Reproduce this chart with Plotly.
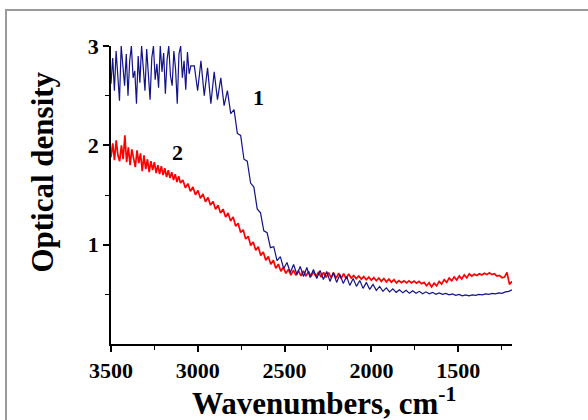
import numpy as np
import plotly.graph_objects as go

# Spectrum 1 (navy): noisy high-absorbance part, then fringe-modulated edge and tail
blue_noisy = [2.62, 2.88, 2.55, 2.95, 2.70, 2.45, 3.00, 2.80, 2.60, 2.92, 2.50, 2.85,
              3.00, 2.68, 2.75, 2.42, 2.90, 2.63, 3.00, 2.78, 2.55, 2.97, 2.70, 2.46,
              2.88, 3.00, 2.66, 2.82, 2.58, 3.00, 2.74, 2.93, 2.52, 2.86, 3.00, 2.70,
              2.60, 2.95, 2.77, 2.42, 2.92, 3.00, 2.68, 2.85, 2.56, 2.94, 2.72, 2.80]
blue_noisy_wn = (3500, 3040)

blue_fringe = [2.80, 2.55, 2.85, 2.50, 2.78, 2.42, 2.74, 2.46, 2.68, 2.40,
               2.55, 2.32, 2.36, 2.12, 2.10, 1.86, 1.84, 1.62, 1.58, 1.36,
               1.32, 1.14, 1.12, 0.97, 0.98, 0.84, 0.88, 0.76, 0.82, 0.72,
               0.80, 0.70, 0.78, 0.68, 0.77, 0.67, 0.75, 0.66, 0.74, 0.65,
               0.73, 0.63, 0.72, 0.62, 0.70, 0.61, 0.68, 0.59, 0.66, 0.58,
               0.64, 0.56, 0.62, 0.55, 0.60, 0.54, 0.58, 0.53, 0.565, 0.525,
               0.555, 0.52, 0.545, 0.515, 0.54, 0.51, 0.535, 0.51, 0.53, 0.505,
               0.525, 0.505, 0.52, 0.50, 0.515, 0.50, 0.51, 0.495, 0.505, 0.49,
               0.50, 0.485, 0.495, 0.485, 0.495, 0.49, 0.50, 0.495, 0.505, 0.50,
               0.51, 0.505, 0.515, 0.51, 0.525, 0.53, 0.545]
blue_fringe_wn = (3020, 1190)

# Spectrum 2 (red)
red_noisy = [1.88, 2.02, 1.85, 2.05, 1.90, 1.84, 2.00, 1.86, 2.10, 1.83,
             1.98, 1.80, 1.96, 1.86, 1.78, 1.95, 1.82, 1.92, 1.74, 1.90,
             1.76, 1.86, 1.73, 1.84, 1.75, 1.83, 1.72, 1.80, 1.71, 1.79,
             1.70, 1.77, 1.68, 1.75, 1.67, 1.73, 1.65, 1.71, 1.63, 1.69, 1.62]
red_noisy_wn = (3500, 3100)

red_fringe = [1.65, 1.572, 1.615, 1.537, 1.58, 1.502, 1.545, 1.467, 1.51, 1.432,
              1.475, 1.398, 1.436, 1.357, 1.397, 1.318, 1.358, 1.278, 1.319, 1.239,
              1.28, 1.187, 1.215, 1.122, 1.15, 1.057, 1.085, 0.992, 1.028, 0.943,
              0.978, 0.892, 0.927, 0.842, 0.881, 0.802, 0.843, 0.763, 0.804, 0.732,
              0.772, 0.711, 0.751, 0.694, 0.743, 0.691, 0.739, 0.687, 0.736, 0.684,
              0.732, 0.681, 0.729, 0.678, 0.726, 0.674, 0.722, 0.671, 0.719, 0.667,
              0.716, 0.664, 0.713, 0.661, 0.709, 0.657, 0.706, 0.664, 0.69, 0.658,
              0.685, 0.653, 0.68, 0.647, 0.674, 0.642, 0.669, 0.637, 0.664, 0.631,
              0.659, 0.626, 0.653, 0.621, 0.648, 0.615, 0.639, 0.618, 0.637, 0.616,
              0.635, 0.614, 0.633, 0.612, 0.631, 0.606, 0.62, 0.587, 0.617, 0.575,
              0.612, 0.585, 0.63, 0.603, 0.648, 0.62, 0.665, 0.635, 0.676, 0.645,
              0.686, 0.655, 0.696, 0.666, 0.707, 0.684, 0.702, 0.689, 0.707, 0.694,
              0.712, 0.699, 0.717, 0.698, 0.707, 0.683, 0.691, 0.667, 0.674, 0.72,
              0.60, 0.63]
red_fringe_wn = (3086, 1190)

x_ticks = [3500, 3000, 2500, 2000, 1500]
x_minor = [3250, 2750, 2250, 1750, 1250]
y_ticks = [1, 2, 3]
y_minor = [0.5, 1.5, 2.5]

x_range = [3500, 1190]
y_range = [0, 3]

serif = "Liberation Serif, Times New Roman, serif"


def spectrum(noisy, noisy_wn, fringe, fringe_wn):
    wn = np.concatenate([np.linspace(noisy_wn[0], noisy_wn[1], len(noisy)),
                         np.linspace(fringe_wn[0], fringe_wn[1], len(fringe))])
    return wn, np.array(noisy + fringe)


bx, by = spectrum(blue_noisy, blue_noisy_wn, blue_fringe, blue_fringe_wn)
rx, ry = spectrum(red_noisy, red_noisy_wn, red_fringe, red_fringe_wn)

fig = go.Figure()
fig.add_trace(go.Scatter(x=rx, y=ry, mode="lines",
                         line=dict(color="#ff0000", width=1.7), showlegend=False))
fig.add_trace(go.Scatter(x=bx, y=by, mode="lines",
                         line=dict(color="#12128a", width=1.2), showlegend=False))

axis_common = dict(showline=True, linecolor="black", linewidth=1.5,
                   ticks="outside", ticklen=6, tickwidth=1.5, tickcolor="black",
                   showgrid=False, zeroline=False,
                   tickfont=dict(family=serif, size=22, color="black", weight="bold"))

fig.update_xaxes(range=x_range, tickvals=x_ticks, ticktext=[str(v) for v in x_ticks],
                 minor=dict(tickvals=x_minor, ticks="outside", ticklen=4,
                            tickwidth=1.2, tickcolor="black"),
                 **axis_common)
fig.update_yaxes(range=y_range, tickvals=y_ticks, ticktext=[str(v) for v in y_ticks],
                 minor=dict(tickvals=y_minor, ticks="outside", ticklen=4,
                            tickwidth=1.2, tickcolor="black"),
                 **axis_common)

fig.add_annotation(x=0.53, y=-0.193, xref="paper", yref="paper",
                   text="Wavenumbers, cm<sup>-1</sup>", showarrow=False,
                   xanchor="center", yanchor="middle",
                   font=dict(family=serif, size=31, color="black", weight="bold"))
fig.add_annotation(x=-0.17, y=0.578, xref="paper", yref="paper",
                   text="Optical density", showarrow=False, textangle=-90,
                   xanchor="center", yanchor="middle",
                   font=dict(family=serif, size=31, color="black", weight="bold"))

for label, lx, ly in [("1", 2652, 2.48), ("2", 3119, 1.925)]:
    fig.add_annotation(x=lx, y=ly, text=label, showarrow=False,
                       font=dict(family=serif, size=22, color="black", weight="bold"))

# outer frame
fig.add_shape(type="rect", xref="paper", yref="paper",
              x0=-0.2618, y0=-0.4, x1=1.4, y1=1.1206,
              line=dict(color="#9a9a9a", width=2), layer="below")

fig.update_layout(width=588, height=420,
                  margin=dict(l=111, r=76, t=46, b=75.5),
                  paper_bgcolor="white", plot_bgcolor="white")

fig.write_html("out.html")
